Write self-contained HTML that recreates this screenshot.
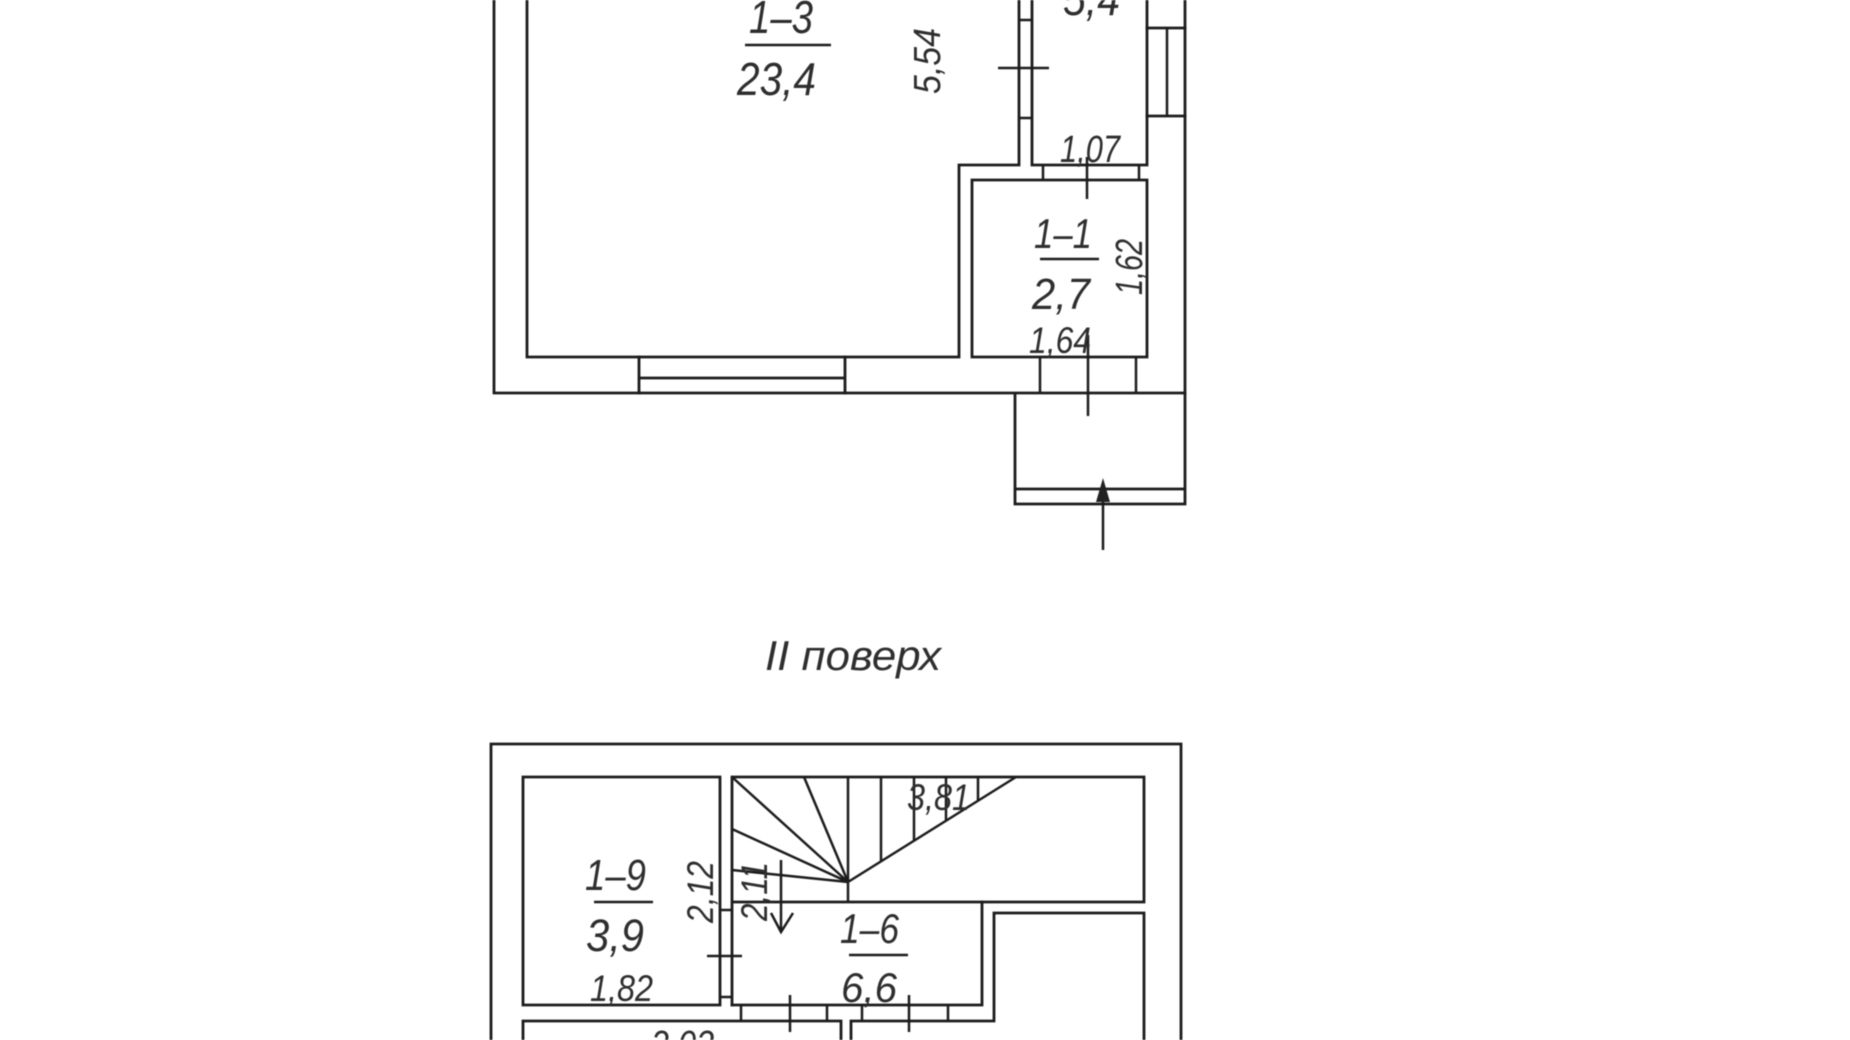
<!DOCTYPE html>
<html>
<head>
<meta charset="utf-8">
<title>Floor plan</title>
<style>
html,body{margin:0;padding:0;background:#fff;width:1850px;height:1040px;overflow:hidden}
svg{display:block;filter:blur(0.5px)}
text{font-family:"Liberation Sans",sans-serif;font-style:italic;fill:#2e2e2e}
.w{fill:none;stroke:#1c1c1c;stroke-width:2.8;stroke-linecap:square;stroke-linejoin:miter}
.t{fill:none;stroke:#1c1c1c;stroke-width:2.5;stroke-linecap:butt}
</style>
</head>
<body>
<svg width="1850" height="1040" viewBox="0 0 1850 1040" xmlns="http://www.w3.org/2000/svg">
<rect width="1850" height="1040" fill="#fff"/>

<!-- First floor walls -->
<path class="w" d="M494 -5V393H1185V-5"/>
<path class="w" d="M527 -5V357H959V165H1019V-5"/>
<path class="w" d="M1032 -5V165H1147V-5"/>
<path class="w" d="M972 357V180H1147V357H972"/>
<!-- Window south -->
<path class="w" d="M639 357V393M845 357V393M639 378H845"/>
<!-- Door between 1-3 and 5,4 -->
<path class="t" d="M1019 20H1032M1019 118H1032"/>
<path class="t" d="M998 68H1049"/>
<!-- East window -->
<path class="w" d="M1147 28H1185M1147 116H1185"/>
<path class="t" d="M1167 28V116"/>
<!-- Door 1-1 top -->
<path class="t" d="M1043 165V180M1139 165V180M1087 157V199"/>
<!-- Door 1-1 bottom -->
<path class="t" d="M1040 357V394M1136 357V394M1088 335V416"/>
<!-- Porch -->
<path class="w" d="M1015 394V504H1185V394M1015 489H1185"/>
<path class="t" d="M1103 490V550"/>
<polygon points="1103,478 1110,502 1096,502" fill="#222"/>

<!-- First floor labels -->
<text x="749" y="33" font-size="46" textLength="64" lengthAdjust="spacingAndGlyphs">1–3</text>
<path class="t" d="M745 45H831"/>
<text x="737" y="95" font-size="46" textLength="79" lengthAdjust="spacingAndGlyphs">23,4</text>
<text x="1063" y="15" font-size="46" textLength="57" lengthAdjust="spacingAndGlyphs">5,4</text>
<text transform="translate(940 94) rotate(-90)" font-size="38" textLength="66" lengthAdjust="spacingAndGlyphs">5,54</text>
<text x="1060" y="162" font-size="38" textLength="60" lengthAdjust="spacingAndGlyphs">1,07</text>
<text x="1034" y="248" font-size="42" textLength="58" lengthAdjust="spacingAndGlyphs">1–1</text>
<path class="t" d="M1040 259H1099"/>
<text x="1032" y="309" font-size="44" textLength="58" lengthAdjust="spacingAndGlyphs">2,7</text>
<text transform="translate(1142 295) rotate(-90)" font-size="38" textLength="56" lengthAdjust="spacingAndGlyphs">1,62</text>
<text x="1029" y="353" font-size="37" textLength="62" lengthAdjust="spacingAndGlyphs">1,64</text>

<text x="765" y="670" font-size="42" textLength="176" lengthAdjust="spacingAndGlyphs">II  поверх</text>

<!-- Second floor walls -->
<path class="w" d="M491 1045V744H1181V1045"/>
<path class="w" d="M523 777H720V1005H523V777"/>
<path class="w" d="M732 1005V777H1144V902H732"/>
<path class="w" d="M732 1005H982V902"/>
<path class="w" d="M1144 1045V913H994V1021H851V1045"/>
<path class="w" d="M523 1045V1021H841V1045"/>
<!-- Door 1-9 / 1-6 -->
<path class="t" d="M720 910H732M720 997H732M707 956H742"/>
<!-- Doors bottom of 1-6 -->
<path class="t" d="M741 1005V1021M827 1005V1021M790 995V1032"/>
<path class="t" d="M862 1005V1021M948 1005V1021M909 995V1032"/>
<!-- Stairs -->
<path class="t" d="M732 777L848 882M804 777L848 882M732 829L848 882M732 870L848 882"/>
<path class="t" d="M848 777V902M848 882L1016 777"/>
<path class="t" d="M881 777V861M914 777V840M946 777V820M978 777V800"/>
<!-- Down arrow -->
<path class="t" d="M781 860V932M771 913L781 932L793 913"/>

<!-- Second floor labels -->
<text x="585" y="890" font-size="44" textLength="61" lengthAdjust="spacingAndGlyphs">1–9</text>
<path class="t" d="M594 902H653"/>
<text x="586" y="951" font-size="45" textLength="58" lengthAdjust="spacingAndGlyphs">3,9</text>
<text x="590" y="1001" font-size="37" textLength="63" lengthAdjust="spacingAndGlyphs">1,82</text>
<text x="651" y="1057" font-size="38" textLength="63" lengthAdjust="spacingAndGlyphs">2,03</text>
<text transform="translate(713 923) rotate(-90)" font-size="37" textLength="62" lengthAdjust="spacingAndGlyphs">2,12</text>
<text transform="translate(767 921) rotate(-90)" font-size="37" textLength="59" lengthAdjust="spacingAndGlyphs">2,11</text>
<text x="907" y="810" font-size="37" textLength="63" lengthAdjust="spacingAndGlyphs">3,81</text>
<text x="840" y="943" font-size="42" textLength="59" lengthAdjust="spacingAndGlyphs">1–6</text>
<path class="t" d="M849 955H908"/>
<text x="841" y="1002" font-size="42" textLength="56" lengthAdjust="spacingAndGlyphs">6,6</text>
</svg>
</body>
</html>
